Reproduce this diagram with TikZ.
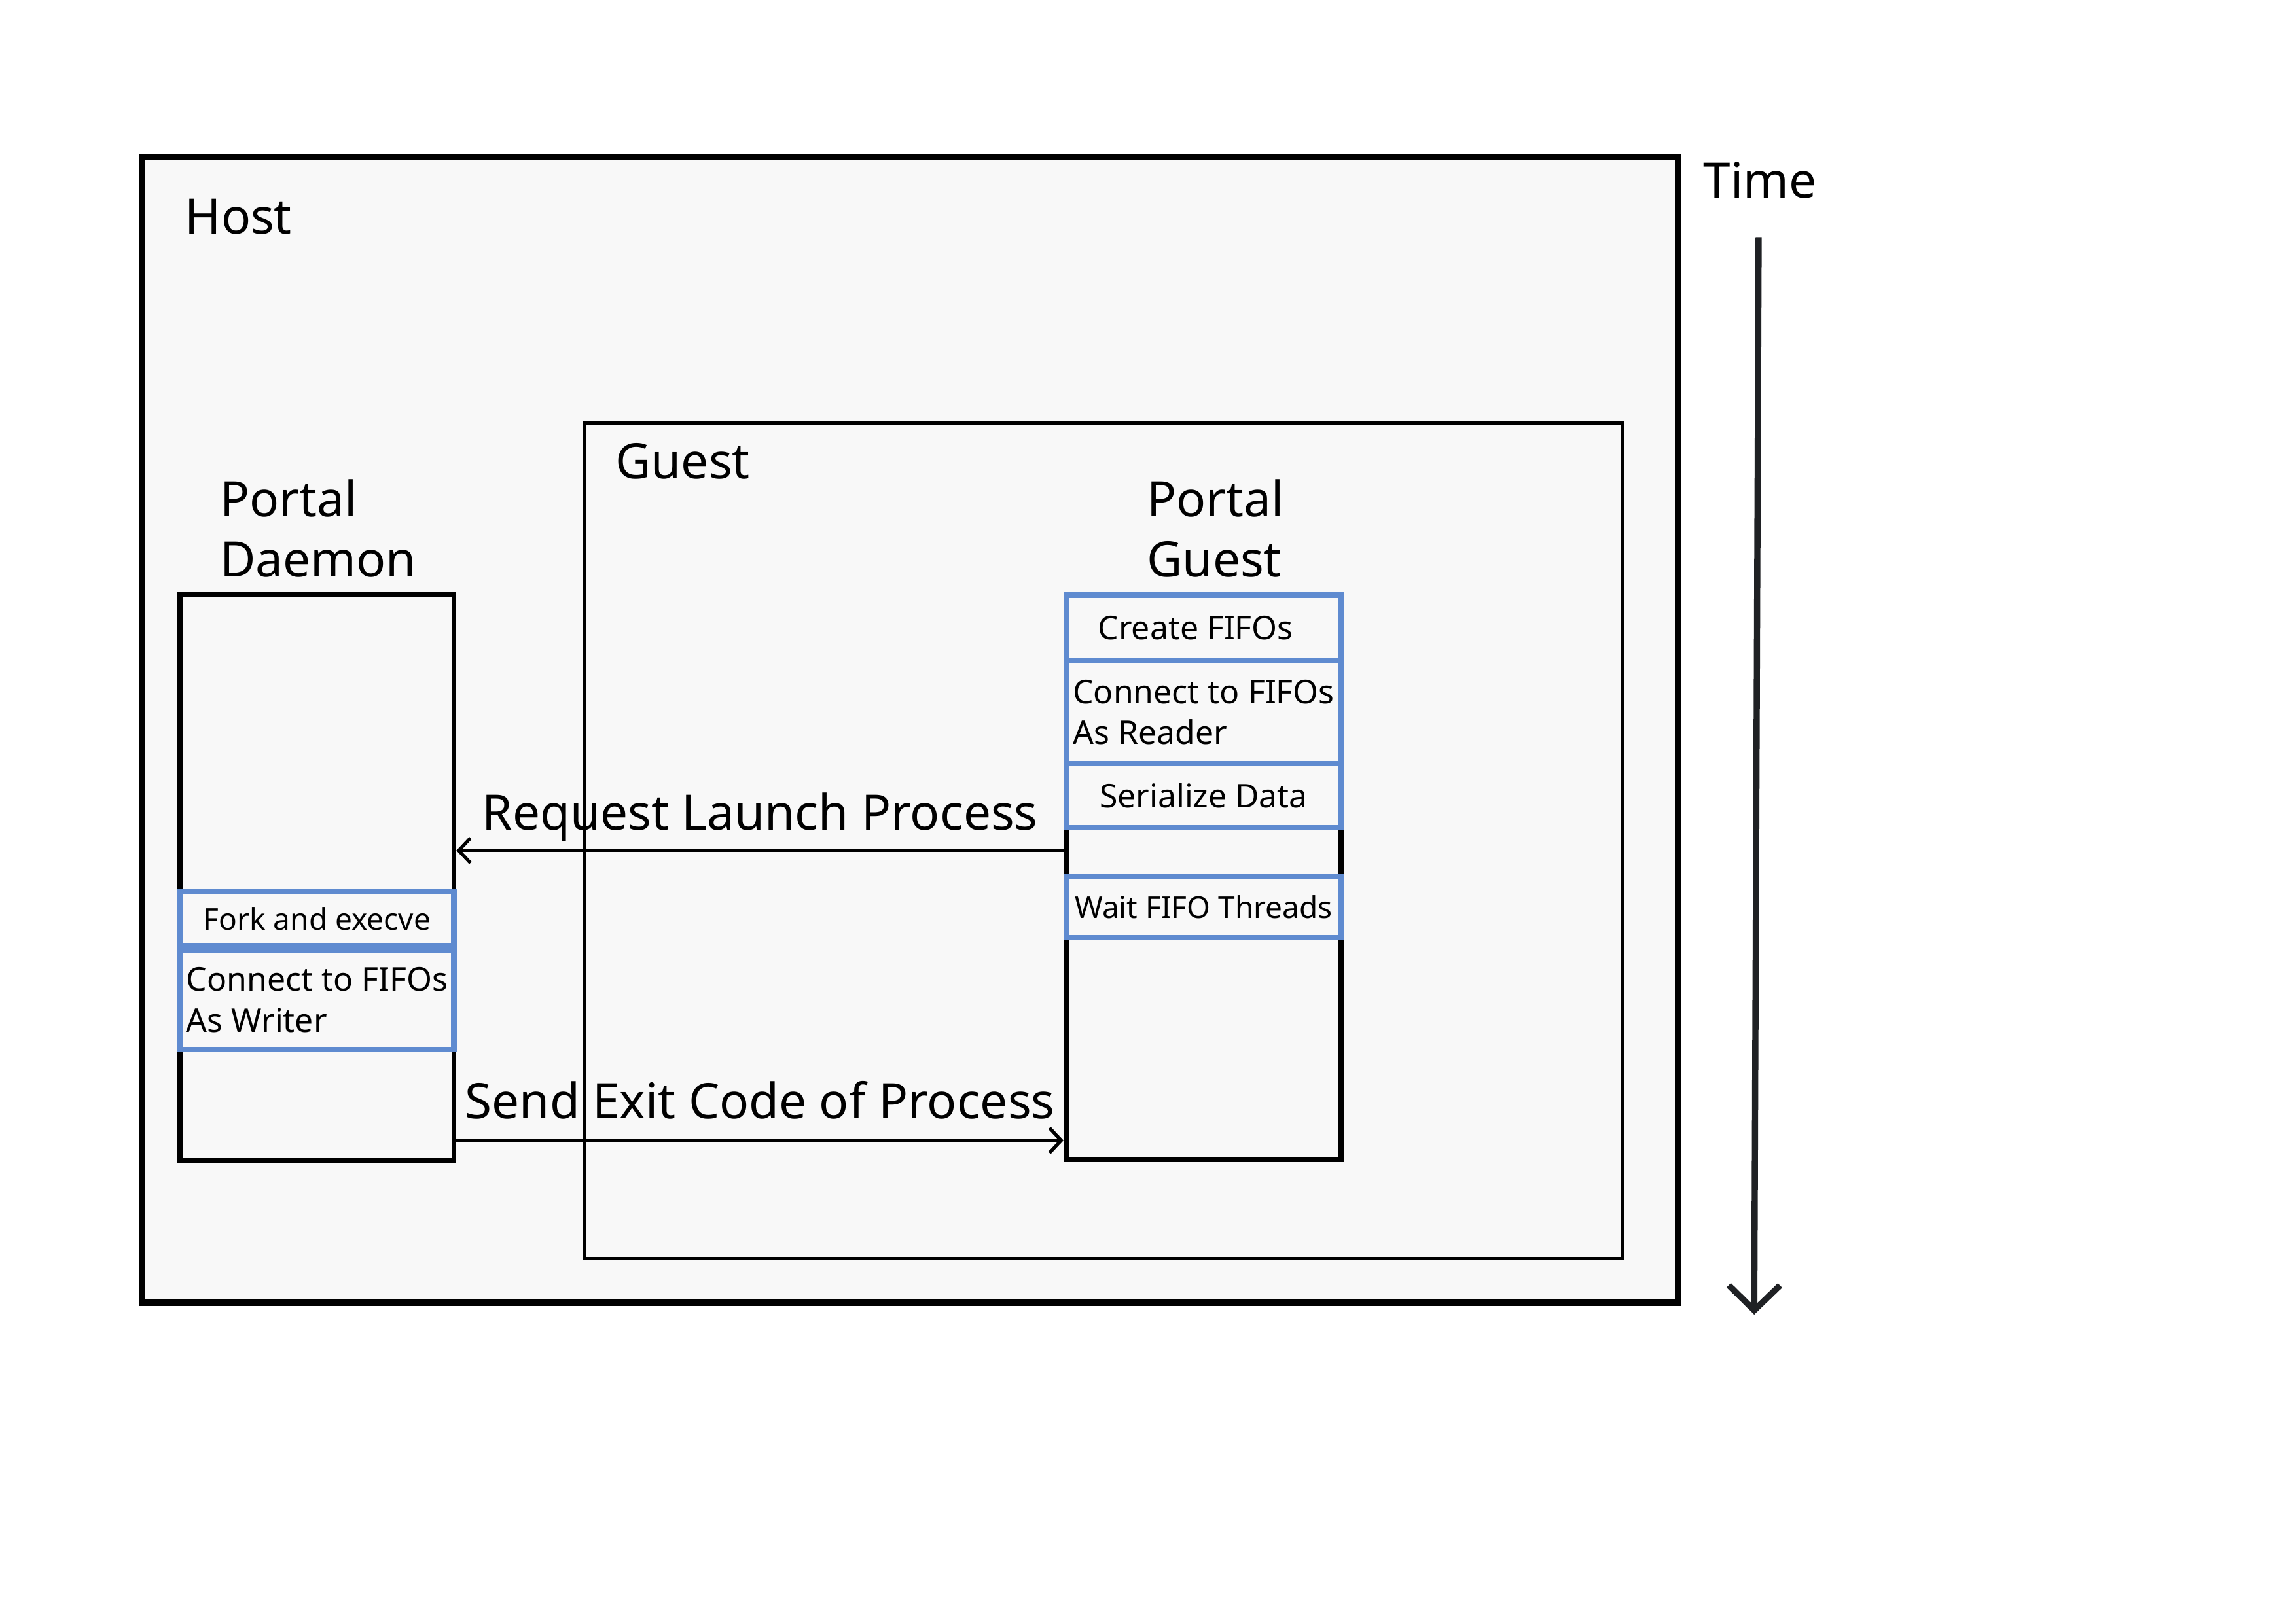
\documentclass[tikz,border=0pt]{standalone}
\usepackage{fontspec}
\setmainfont{Noto Sans}
\usetikzlibrary{arrows.meta}
\definecolor{bgfill}{HTML}{F8F8F8}
\definecolor{stepblue}{HTML}{5F8BD0}
\definecolor{timecol}{HTML}{1F2124}
\begin{document}
\begin{tikzpicture}[x=0.02cm,y=-0.02cm,
  bigfont/.style={font=\fontsize{19pt}{23.3pt}\selectfont},
  smallfont/.style={font=\fontsize{12.7pt}{15.9pt}\selectfont},
  tightfont/.style={font=\fontsize{11.7pt}{14.5pt}\selectfont},
  hostbox/.style={draw=black, fill=bgfill, line width=2.56pt, inner sep=0pt},
  guestbox/.style={draw=black, fill=bgfill, line width=1.3pt, inner sep=0pt},
  lifeline/.style={draw=black, fill=bgfill, line width=1.95pt, inner sep=0pt},
  stepbox/.style={draw=stepblue, fill=bgfill, line width=2.1pt, inner sep=0pt, smallfont, align=left},
  msg/.style={line width=1.3pt, -{Straight Barb[length=1.6mm,width=3.4mm]}},
  txt/.style={bigfont, inner sep=0pt},
  timearrow/.style={line width=2.4pt, draw=timecol, -{Straight Barb[length=3.4mm,width=7mm]}}
]
\fill[white] (0,0) rectangle (1568,1109);
\useasboundingbox (0,0) rectangle (1568,1109);

% containers
\node[hostbox, minimum width=20.98cm, minimum height=15.66cm] (host) at (621.5,498.5) {};
\node[guestbox, minimum width=14.18cm, minimum height=11.42cm] (guest) at (753.5,574.5) {};

% lifelines
\node[lifeline, minimum width=3.74cm, minimum height=7.74cm] (daemon) at (216.5,599.5) {};
\node[lifeline, minimum width=3.76cm, minimum height=7.72cm] (pguest) at (822,599) {};

% steps of the daemon
\node[stepbox, tightfont, minimum width=3.74cm, minimum height=0.74cm] (fork) at (216.5,627.5) {Fork and execve};
\node[stepbox, minimum width=3.74cm, minimum height=1.36cm] (writer) at (216.5,683) {Connect to FIFOs\\As Writer};

% steps of the guest
\node[stepbox, minimum width=3.76cm, minimum height=0.9cm] (create) at (822,429) {Create FIFOs\hspace*{0.22cm}};
\node[stepbox, minimum width=3.76cm, minimum height=1.4cm] (reader) at (822,486.5) {Connect to FIFOs\\As Reader};
\node[stepbox, minimum width=3.76cm, minimum height=0.88cm] (serial) at (822,543.5) {Serialize Data};
\node[stepbox, tightfont, minimum width=3.76cm, minimum height=0.84cm] (waitf) at (822,619.5) {Wait FIFO Threads};

% labels
\node[txt, anchor=base west] (hostlbl) at (126,160) {Host};
\node[txt, anchor=base west] (guestlbl) at (420,327) {Guest};
\node[txt, anchor=west, align=left] (daemonlbl) at (150,361) {Portal\\Daemon};
\node[txt, anchor=west, align=left] (pguestlbl) at (783,361) {Portal\\Guest};
\node[txt, anchor=base west] (timelbl) at (1163,135) {Time};

% messages
\coordinate (rq) at (0,581);
\coordinate (sd) at (0,779);
\draw[msg] (pguest.west |- rq) -- node[txt, anchor=base, yshift=0.28cm] (rqlbl) {Request Launch Process} (daemon.east |- rq);
\draw[msg] (daemon.east |- sd) -- node[txt, anchor=base, yshift=0.30cm] (sdlbl) {Send Exit Code of Process} (pguest.west |- sd);

% time axis
\coordinate (t0) at (1201,162);
\coordinate (t1) at (1198,898);
\draw[timearrow] (t0) -- (t1);
\end{tikzpicture}
\end{document}
